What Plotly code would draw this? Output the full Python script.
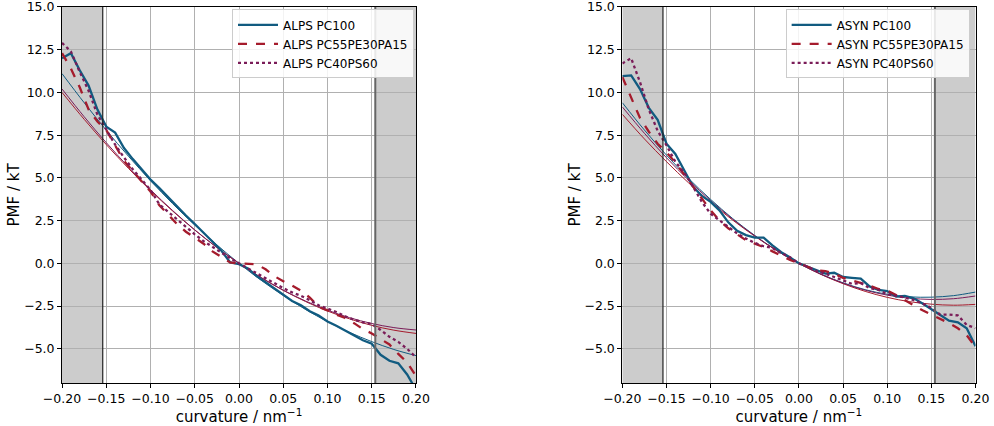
import plotly.graph_objects as go

# ---------------- data ----------------
curvature = [round(-0.20 + 0.01 * i, 2) for i in range(41)]
fit_curvature = [-0.2, -0.175, -0.15, -0.125, -0.1, -0.075, -0.05, -0.025, 0.0,
                 0.025, 0.05, 0.075, 0.1, 0.125, 0.15, 0.175, 0.2]

alps_pc100 = [12.0, 12.3, 11.3, 10.4, 9.0, 8.0, 7.65, 6.75, 6.1, 5.5, 4.9,
              4.4, 3.85, 3.3, 2.8, 2.3, 1.8, 1.3, 0.75, 0.05, -0.05,
              -0.3, -0.75, -1.1, -1.45, -1.85, -2.2, -2.45, -2.8, -3.05, -3.4,
              -3.65, -3.95, -4.25, -4.5, -4.7, -5.35, -5.7, -5.85, -6.5, -7.4]
alps_pc55 = [12.3, 11.4, 10.3, 9.0, 8.3, 7.8, 6.9, 6.0, 5.4, 4.8, 4.2,
             3.4, 2.85, 2.3, 1.85, 1.5, 1.15, 0.7, 0.35, 0.05, 0.0,
             -0.02, -0.05, -0.35, -0.75, -1.05, -1.3, -1.6, -2.0, -2.55, -2.75,
             -3.0, -3.2, -3.5, -3.85, -4.1, -4.4, -4.75, -5.3, -5.8, -6.6]
alps_pc40 = [12.9, 12.4, 11.2, 10.1, 8.7, 7.8, 6.95, 6.2, 5.5, 4.9, 4.3,
             3.45, 3.0, 2.55, 2.1, 1.7, 1.3, 0.95, 0.6, 0.3, 0.0,
             -0.3, -0.6, -0.85, -1.15, -1.45, -1.7, -1.9, -2.15, -2.45, -2.65,
             -2.85, -3.1, -3.3, -3.45, -3.55, -3.9, -4.3, -4.6, -5.0, -5.5]

asyn_pc100 = [10.95, 11.0, 10.2, 9.1, 8.4, 7.0, 6.4, 5.45, 4.5, 3.95, 3.6,
              3.1, 2.4, 1.9, 1.65, 1.5, 1.5, 1.05, 0.65, 0.35, 0.0,
              -0.2, -0.4, -0.6, -0.55, -0.8, -0.85, -0.9, -1.35, -1.55, -1.62,
              -1.95, -1.9, -2.05, -2.35, -2.7, -3.0, -3.35, -3.45, -3.8, -4.85]
asyn_pc55 = [10.9, 9.7, 8.5, 7.7, 7.0, 6.5, 5.9, 5.2, 4.5, 3.75, 3.1,
             2.5, 2.05, 1.7, 1.35, 1.15, 0.95, 0.7, 0.45, 0.2, 0.0,
             -0.2, -0.4, -0.45, -0.6, -0.85, -1.0, -1.15, -1.3, -1.5, -1.6,
             -1.85, -2.15, -2.5, -2.75, -3.0, -3.25, -3.5, -3.8, -4.2, -4.9]
asyn_pc40 = [11.7, 12.0, 10.6, 9.0, 7.75, 6.9, 5.95, 5.3, 4.5, 3.6, 2.9,
             2.5, 2.1, 1.75, 1.45, 1.2, 1.0, 0.9, 0.6, 0.35, 0.0,
             -0.2, -0.45, -0.6, -0.8, -1.0, -1.2, -1.15, -1.45, -1.55, -1.8,
             -1.9, -2.0, -2.15, -2.35, -2.6, -3.0, -3.0, -3.05, -3.6, -3.8]

alps_fit_pc100 = [11.10, 9.40, 7.79, 6.27, 4.84, 3.49, 2.24, 1.08, 0.0,
                  -0.99, -1.88, -2.69, -3.41, -4.04, -4.58, -5.04, -5.40]
alps_fit_pc55 = [10.00, 8.43, 6.95, 5.56, 4.26, 3.06, 1.95, 0.93, 0.0,
                 -0.835, -1.58, -2.23, -2.79, -3.25, -3.63, -3.91, -4.10]
alps_fit_pc40 = [10.20, 8.58, 7.06, 5.64, 4.31, 3.09, 1.96, 0.93, 0.0,
                 -0.832, -1.57, -2.20, -2.74, -3.18, -3.52, -3.76, -3.90]
asyn_fit_pc100 = [9.40, 7.80, 6.33, 4.97, 3.74, 2.62, 1.63, 0.75, 0.0,
                  -0.63, -1.14, -1.54, -1.81, -1.96, -1.98, -1.89, -1.68]
asyn_fit_pc55 = [8.72, 7.28, 5.95, 4.71, 3.57, 2.53, 1.59, 0.74, 0.0,
                 -0.65, -1.19, -1.64, -1.99, -2.24, -2.39, -2.45, -2.40]
asyn_fit_pc40 = [9.15, 7.61, 6.18, 4.87, 3.67, 2.58, 1.61, 0.75, 0.0,
                 -0.64, -1.16, -1.57, -1.86, -2.04, -2.11, -2.07, -1.91]

x_ticks = [-0.20, -0.15, -0.10, -0.05, 0.00, 0.05, 0.10, 0.15, 0.20]
y_ticks = [-5.0, -2.5, 0.0, 2.5, 5.0, 7.5, 10.0, 12.5, 15.0]
band_edge = 0.154

BLUE = "#115b80"
RED = "#a51b2c"
PURPLE = "#7a1c58"

FONT = "DejaVu Sans"

fig = go.Figure()

panels = [
    ("x", "y", "legend", "ALPS",
     [alps_pc100, alps_pc55, alps_pc40], [alps_fit_pc100, alps_fit_pc55, alps_fit_pc40]),
    ("x2", "y2", "legend2", "ASYN",
     [asyn_pc100, asyn_pc55, asyn_pc40], [asyn_fit_pc100, asyn_fit_pc55, asyn_fit_pc40]),
]
names = ["PC100", "PC55PE30PA15", "PC40PS60"]
colors = [BLUE, RED, PURPLE]
dashes = ["solid", "dash", "dot"]

for xa, ya, lg, prefix, series, fits in panels:
    for fit, col in zip(fits, colors):
        fig.add_trace(go.Scatter(x=fit_curvature, y=fit, mode="lines", xaxis=xa, yaxis=ya,
                                 line=dict(color=col, width=1, shape="spline"),
                                 showlegend=False, hoverinfo="skip"))
    for s, col, d, nm in zip(series, colors, dashes, names):
        fig.add_trace(go.Scatter(x=curvature, y=s, mode="lines", xaxis=xa, yaxis=ya,
                                 name=f"{prefix} {nm}", legend=lg,
                                 line=dict(color=col, width=2.3, dash=d)))

shapes = []
for xr in ["x", "x2"]:
    yr = "y" if xr == "x" else "y2"
    shapes.append(dict(type="rect", xref=xr, yref=f"{yr} domain", x0=-0.2, x1=-band_edge,
                       y0=0, y1=1, fillcolor="#cccccc", line=dict(width=0), layer="below"))
    shapes.append(dict(type="rect", xref=xr, yref=f"{yr} domain", x0=band_edge, x1=0.2,
                       y0=0, y1=1, fillcolor="#cccccc", line=dict(width=0), layer="below"))
    shapes.append(dict(type="line", xref=xr, yref=f"{yr} domain", x0=-band_edge, x1=-band_edge,
                       y0=0, y1=1, line=dict(color="#222222", width=1.2)))
    shapes.append(dict(type="line", xref=xr, yref=f"{yr} domain", x0=band_edge, x1=band_edge,
                       y0=0, y1=1, line=dict(color="#666666", width=2)))

axis_common = dict(showline=True, linecolor="black", linewidth=1, mirror=True,
                   ticks="outside", ticklen=4, tickcolor="black", automargin=False,
                   ticklabeloverflow="allow",
                   showgrid=True, gridcolor="#b0b0b0", gridwidth=1, zeroline=False,
                   tickfont=dict(family=FONT, size=12.5, color="black"))

xaxis_cfg = dict(axis_common, range=[-0.2, 0.2], tickvals=x_ticks, tickformat=".2f",
                 title=dict(text="curvature / nm<sup>−1</sup>", font=dict(family=FONT, size=15, color="black"), standoff=0))
yaxis_cfg = dict(axis_common, range=[-7, 15.0001], tickvals=y_ticks, tickformat=".1f",
                 title=dict(text="PMF / kT", font=dict(family=FONT, size=15, color="black"), standoff=0))

legend_common = dict(bgcolor="rgba(255,255,255,0.85)", bordercolor="#cccccc", borderwidth=1,
                     font=dict(family=FONT, size=12, color="black"),
                     xanchor="right", yanchor="top", tracegroupgap=0, itemwidth=40)

fig.update_layout(
    width=994, height=426,
    margin=dict(l=0, r=0, t=0, b=0, autoexpand=False),
    paper_bgcolor="white", plot_bgcolor="white",
    font=dict(family=FONT, color="black"),
    xaxis=dict(xaxis_cfg, domain=[0.0624, 0.4185], anchor="y"),
    yaxis=dict(yaxis_cfg, domain=[0.101, 0.9836], anchor="x"),
    xaxis2=dict(xaxis_cfg, domain=[0.6261, 0.9814], anchor="y2"),
    yaxis2=dict(yaxis_cfg, domain=[0.101, 0.9836], anchor="x2"),
    legend=dict(legend_common, x=0.4165, y=0.978),
    legend2=dict(legend_common, x=0.9755, y=0.978),
    shapes=shapes,
)

fig.write_html("out.html")
